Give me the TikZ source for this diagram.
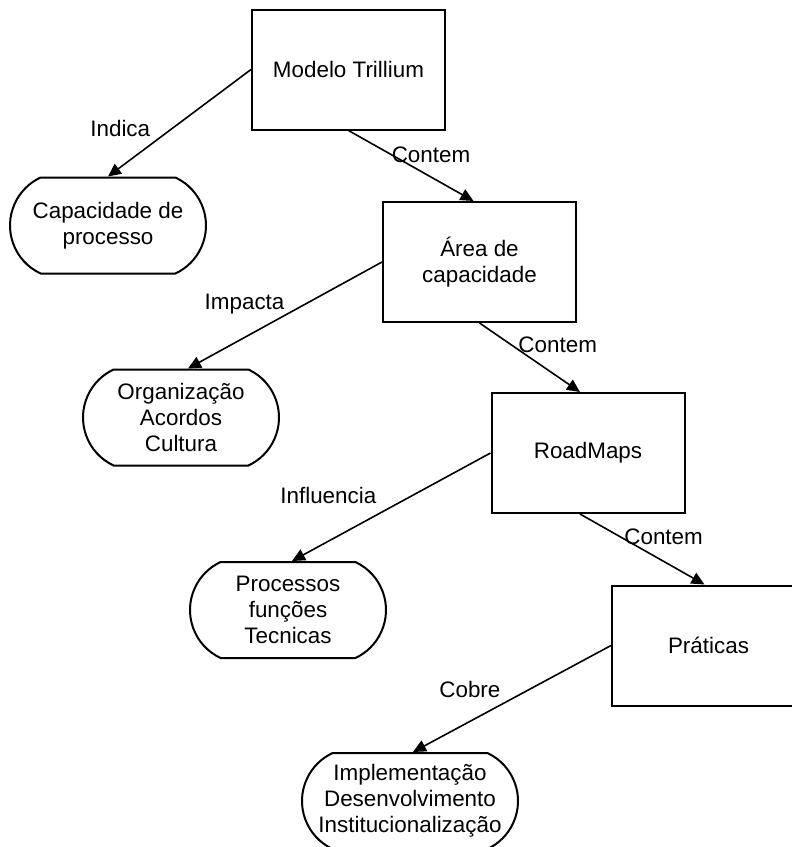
\documentclass[tikz,border=0pt]{standalone}
\usepackage{fontspec}
\setmainfont{Liberation Sans}
\usetikzlibrary{arrows.meta}
\usetikzlibrary{shapes.misc}
\usetikzlibrary{positioning}

\begin{document}
\begin{tikzpicture}[->,>={Triangle[length=6.5pt,width=6pt]},line width=0.8pt,
			x=0.5pt,y=-0.5pt,font={\fontsize{11.2}{13}\selectfont}]
			\tikzstyle{caixa}=[draw,line width=1pt,minimum width=96.5pt,minimum height=60pt,align=center]
			\tikzstyle{oval}=[draw,line width=1pt,rounded rectangle,rounded rectangle arc length=130,
				minimum width=82pt,minimum height=48pt,inner xsep=-8pt,align=center]
			\tikzstyle{rotulo}=[inner sep=0pt]
			
			\useasboundingbox (0,0) rectangle (792,847);
			
			\node[caixa] (M) at (348.5,69.5) {Modelo Trillium};
			\node[caixa] (A) at (479.5,262) {Área de\\capacidade};
			\node[caixa] (R) at (588,453) {RoadMaps};
			\node[caixa] (P) at (708.5,645.5) {Práticas};
			
			\node[oval] (Cap) at (108,225.5) {Capacidade de\\processo};
			\node[oval] (Org) at (181,417.5) {Organização\\Acordos\\Cultura};
			\node[oval] (Proc) at (288,610) {Processos\\funções\\Tecnicas};
			\node[oval, minimum width=92pt] (Impl) at (410,801) {Implementação\\Desenvolvimento\\Institucionalização};
			
			\path
			(M.west) edge node [rotulo, pos=0.55, left=10.7pt] {Indica} (Cap.north)
			(M.south) edge node [rotulo, pos=0.34, anchor=west] {Contem} ([xshift=-3pt]A.north)
			(A.west) edge node [rotulo, pos=0.40, left=9.6pt] {Impacta} ([xshift=3.5pt]Org.north)
			(A.south) edge node [rotulo, pos=0.38, anchor=west, yshift=2pt] {Contem} ([xshift=-4pt]R.north)
			(R.west) edge node [rotulo, pos=0.39, left=18pt] {Influencia} ([xshift=2pt]Proc.north)
			([xshift=-4pt]R.south) edge node [rotulo, pos=0.35, anchor=west, yshift=1pt] {Contem} ([xshift=-2pt]P.north)
			(P.west) edge node [rotulo, pos=0.41, left=14.3pt] {Cobre} ([xshift=1.5pt]Impl.north)
			;
\end{tikzpicture}
\end{document}
